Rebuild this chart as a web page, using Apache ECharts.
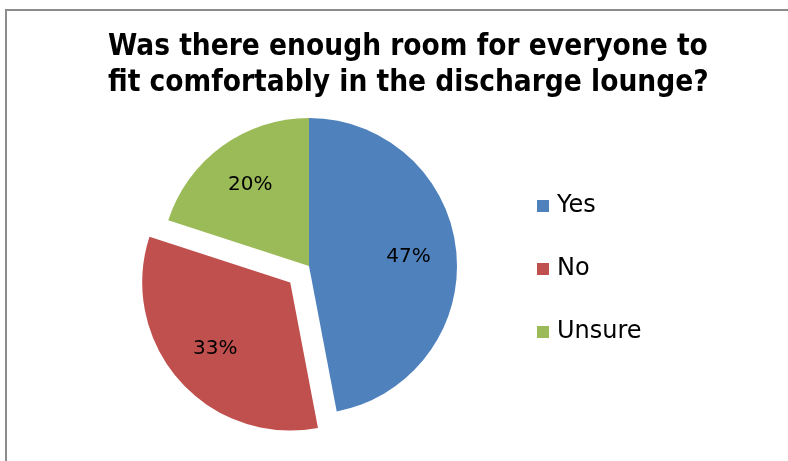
<!DOCTYPE html>
<html>
<head>
<meta charset="utf-8">
<script src="https://cdn.jsdelivr.net/npm/echarts@6/dist/echarts.min.js"></script>
<style>
  html, body { margin: 0; padding: 0; background: #fff; }
  #chart { width: 788px; height: 461px; }
</style>
</head>
<body>
<div id="chart"></div>
<script>
const titleText = "Was there enough room for everyone to\nfit comfortably in the discharge lounge?";
const categories = ["Yes", "No", "Unsure"];
const values = [47, 33, 20];
const colors = ["#4F81BD", "#C0504D", "#9BBB59"];
const explodedName = "No";

const font = "DejaVu Sans";
const titleFont = "'DejaVu Sans Condensed', 'DejaVu Sans'";

const pieData = categories.map((name, i) => ({
  name: name,
  value: values[i],
  selected: name === explodedName,
  itemStyle: { color: colors[i] }
}));

const chart = echarts.init(document.getElementById("chart"));
chart.setOption({
  animation: false,
  title: {
    text: titleText,
    left: 103,
    top: 24,
    textAlign: "left",
    textStyle: {
      fontFamily: titleFont,
      fontSize: 29.5,
      fontWeight: "bold",
      color: "#000",
      lineHeight: 36,
      align: "center"
    }
  },
  legend: {
    data: categories,
    orient: "vertical",
    left: 532,
    top: 189,
    itemGap: 39,
    itemWidth: 12,
    itemHeight: 12,
    icon: "rect",
    selectedMode: false,
    textStyle: { fontFamily: font, fontSize: 24, color: "#000", padding: [0, 0, 0, 3] }
  },
  graphic: [{
    type: "rect",
    shape: { x: 6, y: 10, width: 820, height: 520 },
    style: { fill: "none", stroke: "#8c8c8c", lineWidth: 2 },
    silent: true
  }],
  series: [
    {
      type: "pie",
      center: [309, 266],
      radius: 148,
      startAngle: 90,
      clockwise: true,
      selectedMode: "single",
      selectedOffset: 25,
      avoidLabelOverlap: false,
      label: { show: false },
      labelLine: { show: false },
      emphasis: { disabled: true },
      data: pieData
    },
    {
      // transparent copy, only used to place the percentage labels further out
      type: "pie",
      center: [309, 266],
      radius: [46, 148],
      startAngle: 90,
      clockwise: true,
      selectedMode: "single",
      selectedOffset: 25,
      silent: true,
      avoidLabelOverlap: false,
      itemStyle: { color: "rgba(0,0,0,0)" },
      label: {
        show: true,
        position: "inside",
        formatter: "{c}%",
        fontFamily: font,
        fontSize: 20,
        color: "#000"
      },
      labelLine: { show: false },
      emphasis: { disabled: true },
      data: categories.map((name, i) => ({
        name: name,
        value: values[i],
        selected: name === explodedName,
        itemStyle: { color: "rgba(0,0,0,0)" }
      }))
    }
  ]
});
</script>
</body>
</html>
